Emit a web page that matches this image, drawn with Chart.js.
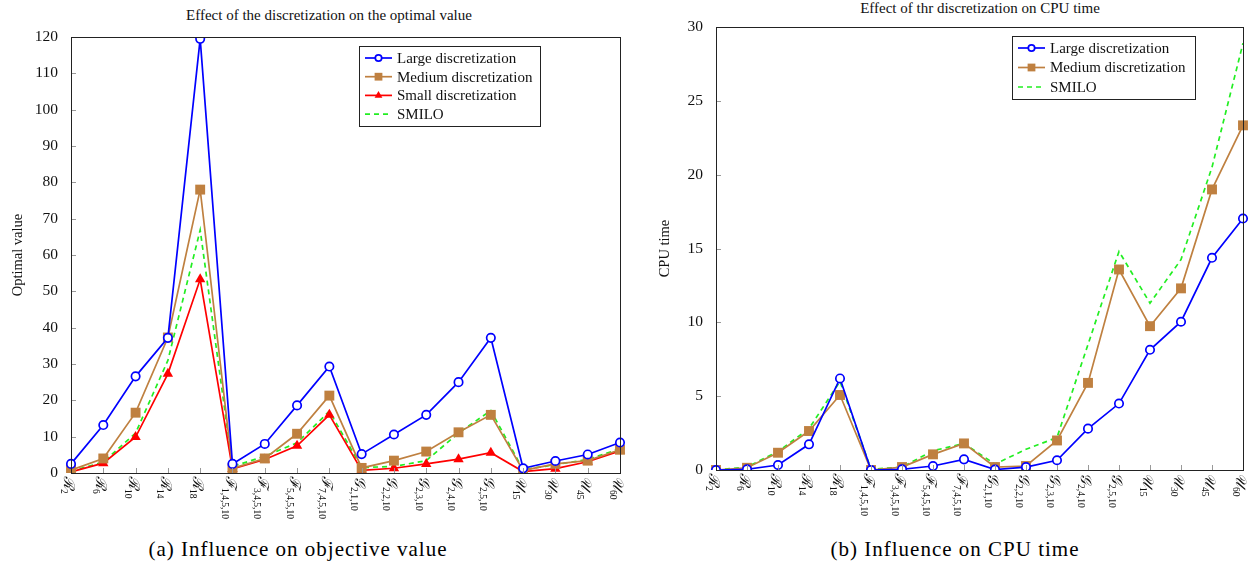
<!DOCTYPE html>
<html lang="en">
<head>
  <meta charset="UTF-8" />
  <title>Effect of the discretization</title>
  <style>
    body { margin: 0; background: #fff; width: 1252px; height: 569px; position: relative; overflow: hidden; font-family: "Liberation Serif", serif; }
    .box { position: absolute; top: 0; }
    .title { position: absolute; font-size: 15px; color: #111; transform: translate(-50%, -50%); white-space: nowrap; }
    .caption { position: absolute; font-family: "Liberation Serif", serif; font-size: 21px; letter-spacing: 1px; transform: translate(-50%, -50%); white-space: nowrap; }
  </style>
</head>
<body>
  <div class="title" style="left:329px; top:15px;">Effect of the discretization on the optimal value</div>
  <div class="title" style="left:980px; top:8px;">Effect of thr discretization on CPU time</div>
  <div class="box" style="left:0;"><canvas id="valueChart" width="630" height="532"></canvas></div>
  <div class="box" style="left:640px;"><canvas id="timeChart" width="612" height="532"></canvas></div>
  <div class="caption" style="left:298px; top:549px;">(a) Influence on objective value</div>
  <div class="caption" style="left:955px; top:549px;">(b) Influence on CPU time</div>

  <script src="https://cdn.jsdelivr.net/npm/chart.js"></script>
  <script>
    // instance names: letter_subscript
    const categories = [
      "ℛ_2", "ℛ_6", "ℛ_10", "ℛ_14", "ℛ_18",
      "ℱ_1,4,5,10", "ℱ_3,4,5,10", "ℱ_5,4,5,10", "ℱ_7,4,5,10",
      "𝒢_2,1,10", "𝒢_2,2,10", "𝒢_2,3,10", "𝒢_2,4,10", "𝒢_2,5,10",
      "𝒰_15", "𝒰_30", "𝒰_45", "𝒰_60"
    ];

    // (a) optimal value
    const valueLarge  = [2.5, 13.2, 26.6, 37.2, 119.5, 2.5, 8.0, 18.6, 29.3, 5.2, 10.6, 16.0, 25.0, 37.2, 1.3, 3.3, 5.1, 8.4];
    const valueMedium = [0.8, 4.0, 16.6, 37.3, 78.0, 1.3, 4.0, 10.8, 21.3, 1.4, 3.4, 5.9, 11.2, 16.0, 0.7, 2.5, 3.4, 6.4];
    const valueSmall  = [0.3, 2.7, 9.9, 27.3, 53.3, 1.1, 3.7, 7.5, 16.0, 0.7, 1.3, 2.5, 3.8, 5.6, 0.4, 1.2, 3.1, 6.1];
    const valueSmilo  = [0.5, 3.0, 11.0, 31.0, 66.9, 1.8, 4.6, 8.3, 17.0, 1.5, 1.8, 3.4, 11.0, 17.2, 0.9, 2.3, 3.7, 6.7];
    const valueTicks  = [0, 120, 10];

    // (b) CPU time
    const timeLarge  = [0.0, 0.05, 0.34, 1.74, 6.2, 0.0, 0.05, 0.27, 0.72, 0.03, 0.2, 0.66, 2.8, 4.5, 8.14, 10.04, 14.37, 17.03];
    const timeMedium = [0.0, 0.15, 1.17, 2.64, 5.08, 0.0, 0.2, 1.06, 1.8, 0.2, 0.27, 2.0, 5.9, 13.58, 9.74, 12.3, 19.0, 23.34];
    const timeSmilo  = [0.0, 0.2, 1.25, 2.8, 6.0, 0.05, 0.2, 1.3, 1.8, 0.4, 1.4, 2.2, 8.5, 14.8, 11.3, 14.25, 20.5, 28.9];
    const timeTicks  = [0, 30, 5];

    const BLUE = "#0000ff", BROWN = "#bf8040", RED = "#ff0000", GREEN = "#22ee22";
    const FONT = "Liberation Serif";

    function largeSet(data) {
      return { label: "Large discretization", data: data, borderColor: BLUE, backgroundColor: "#fff",
               borderWidth: 1.7, pointStyle: "circle", pointRadius: 4.2, pointBorderWidth: 1.7, pointBackgroundColor: "#fff" };
    }
    function mediumSet(data) {
      return { label: "Medium discretization", data: data, borderColor: BROWN, backgroundColor: BROWN,
               borderWidth: 1.7, pointStyle: "rect", pointRadius: 7, pointBorderWidth: 0, pointBackgroundColor: BROWN };
    }
    function smallSet(data) {
      return { label: "Small discretization", data: data, borderColor: RED, backgroundColor: RED,
               borderWidth: 1.7, pointStyle: "triangle", pointRadius: 6, pointBorderWidth: 0, pointBackgroundColor: RED };
    }
    function smiloSet(data) {
      return { label: "SMILO", data: data, borderColor: GREEN, backgroundColor: GREEN,
               borderWidth: 1.7, borderDash: [5, 4], pointRadius: 0 };
    }

    // frame, inner tick marks, rotated x labels and boxed legend
    const decor = {
      id: "decor",
      afterDraw(chart, args, opts) {
        const ctx = chart.ctx, a = chart.chartArea, xs = chart.scales.x, ys = chart.scales.y;
        ctx.save();
        ctx.strokeStyle = "#999"; ctx.lineWidth = 1;
        ctx.beginPath();
        xs.ticks.forEach((t, i) => {
          const x = Math.round(xs.getPixelForValue(i)) + 0.5;
          ctx.moveTo(x, a.bottom); ctx.lineTo(x, a.bottom - 5);
        });
        ys.ticks.forEach(t => {
          const y = Math.round(ys.getPixelForValue(t.value)) + 0.5;
          ctx.moveTo(a.left, y); ctx.lineTo(a.left + 5, y);
        });
        ctx.stroke();
        ctx.strokeStyle = "#222";
        ctx.strokeRect(Math.round(a.left) + 0.5, Math.round(a.top) + 0.5, Math.round(a.right - a.left), Math.round(a.bottom - a.top));

        ctx.fillStyle = "#111";
        categories.forEach((c, i) => {
          const parts = c.split("_");
          ctx.save();
          ctx.translate(xs.getPixelForValue(i) - 3, a.bottom + 3);
          ctx.rotate(Math.PI / 2);
          ctx.textAlign = "left"; ctx.textBaseline = "middle";
          ctx.font = "italic 15px '" + FONT + "'";
          ctx.fillText(parts[0], 0, 0);
          const w = ctx.measureText(parts[0]).width;
          ctx.font = "9.5px '" + FONT + "'";
          ctx.fillText(parts[1], w, 5);
          ctx.restore();
        });

        const L = opts.legend;
        ctx.fillStyle = "#fff";
        ctx.fillRect(L.x, L.y, L.w, L.h);
        ctx.strokeStyle = "#222"; ctx.lineWidth = 1;
        ctx.strokeRect(L.x + 0.5, L.y + 0.5, L.w, L.h);
        chart.data.datasets.forEach((ds, i) => {
          const cy = L.y + L.first + i * L.row;
          ctx.strokeStyle = ds.borderColor; ctx.lineWidth = ds.borderWidth;
          ctx.setLineDash(ds.borderDash || []);
          ctx.beginPath(); ctx.moveTo(L.x + 6, cy); ctx.lineTo(L.x + 33, cy); ctx.stroke();
          ctx.setLineDash([]);
          if (ds.pointRadius) {
            ctx.fillStyle = ds.pointBackgroundColor;
            ctx.lineWidth = ds.pointBorderWidth;
            const r = ds.pointStyle === "circle" ? 3.2 : ds.pointRadius - 1.5;
            Chart.helpers.drawPoint(ctx, { pointStyle: ds.pointStyle, radius: r, rotation: 0, borderWidth: ds.pointBorderWidth }, L.x + 19.5, cy);
          }
          ctx.fillStyle = "#111";
          ctx.font = "15px '" + FONT + "'";
          ctx.textAlign = "left"; ctx.textBaseline = "middle";
          ctx.fillText(ds.label, L.x + 38, cy + 1);
        });
        ctx.restore();
      }
    };

    function makeChart(id, datasets, ticks, yTitle, box) {
      return new Chart(document.getElementById(id), {
        type: "line",
        data: { labels: categories, datasets: datasets },
        plugins: [decor],
        options: {
          responsive: false,
          animation: false,
          devicePixelRatio: 1,
          layout: { padding: { top: box.top, right: box.right, left: 0, bottom: 0 } },
          elements: { line: { tension: 0 } },
          plugins: {
            legend: { display: false },
            tooltip: { enabled: false },
            decor: { legend: box.legend }
          },
          scales: {
            x: {
              type: "category", offset: false,
              grid: { display: false }, border: { display: false },
              ticks: { display: false },
              afterFit(s) { s.height = box.xHeight; }
            },
            y: {
              min: ticks[0], max: ticks[1],
              grid: { display: false }, border: { display: false },
              ticks: { stepSize: ticks[2], autoSkip: false, color: "#111", padding: 5, font: { family: FONT, size: 15.5 } },
              title: { display: true, text: yTitle, color: "#111", padding: { top: box.titlePad, bottom: 0 }, font: { family: FONT, size: 14.5 } },
              afterFit(s) { s.width = box.yWidth; }
            }
          }
        }
      });
    }

    makeChart("valueChart",
      [largeSet(valueLarge), mediumSet(valueMedium), smallSet(valueSmall), smiloSet(valueSmilo)],
      valueTicks, "Optimal value",
      { top: 37, right: 10, xHeight: 59, yWidth: 71, titlePad: 9,
        legend: { x: 359, y: 46, w: 181, h: 80, first: 12, row: 18.7 } });

    makeChart("timeChart",
      [largeSet(timeLarge), mediumSet(timeMedium), smiloSet(timeSmilo)],
      timeTicks, "CPU time",
      { top: 27, right: 9, xHeight: 62, yWidth: 76, titlePad: 16,
        legend: { x: 372, y: 36, w: 183, h: 63, first: 12, row: 19.5 } });
  </script>
</body>
</html>
